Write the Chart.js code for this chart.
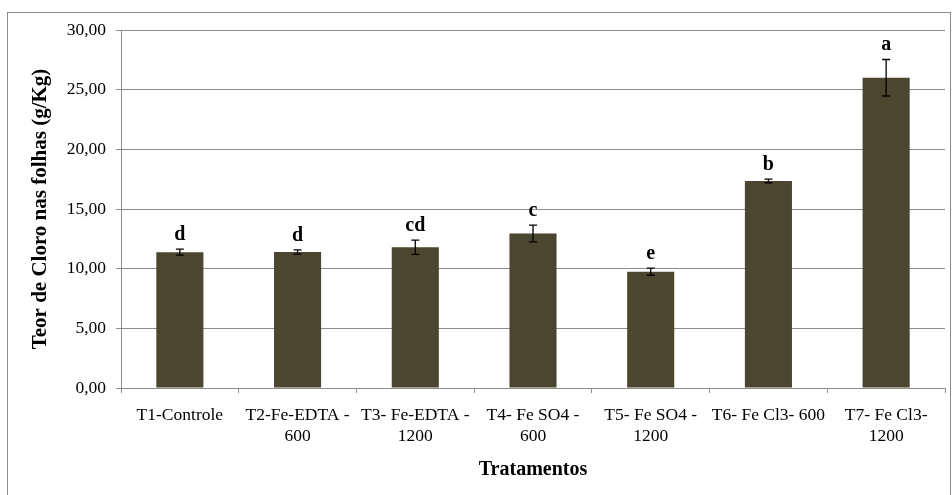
<!DOCTYPE html>
<html>
<head>
<meta charset="utf-8">
<script src="https://cdn.jsdelivr.net/npm/chart.js@4/dist/chart.umd.min.js"></script>
<style>
html,body{margin:0;padding:0;background:#fff;}
#wrap{width:952px;height:495px;position:relative;}
</style>
</head>
<body>
<div id="wrap"><canvas id="c" width="952" height="495"></canvas></div>
<script>
const categories = [
  'T1-Controle',
  ['T2-Fe-EDTA -', '600'],
  ['T3- Fe-EDTA -', '1200'],
  ['T4- Fe SO4 -', '600'],
  ['T5- Fe SO4 -', '1200'],
  'T6- Fe Cl3- 600',
  ['T7- Fe Cl3-', '1200']
];
const values = [11.38, 11.40, 11.80, 12.95, 9.75, 17.35, 26.00];
const errors = [0.25, 0.18, 0.60, 0.70, 0.30, 0.15, 1.53];
const letters = ['d', 'd', 'cd', 'c', 'e', 'b', 'a'];
const yTickLabels = ['0,00', '5,00', '10,00', '15,00', '20,00', '25,00', '30,00'];

const SERIF = '"Liberation Serif", "Times New Roman", serif';

const extras = {
  id: 'extras',
  afterDatasetsDraw(chart) {
    const ctx = chart.ctx;
    const meta = chart.getDatasetMeta(0);
    const y = chart.scales.y;
    ctx.save();
    ctx.strokeStyle = '#000';
    ctx.lineWidth = 1.3;
    ctx.fillStyle = '#000';
    ctx.font = 'bold 20px ' + SERIF;
    ctx.textAlign = 'center';
    ctx.textBaseline = 'alphabetic';
    meta.data.forEach((bar, i) => {
      const x = bar.x;
      const yt = y.getPixelForValue(values[i] + errors[i]);
      const yb = y.getPixelForValue(values[i] - errors[i]);
      ctx.beginPath();
      ctx.moveTo(x, yt); ctx.lineTo(x, yb);
      ctx.moveTo(x - 4, yt); ctx.lineTo(x + 4, yt);
      ctx.moveTo(x - 4, yb); ctx.lineTo(x + 4, yb);
      ctx.stroke();
      ctx.fillText(letters[i], x, yt - 9);
    });
    ctx.restore();
  },
  afterDraw(chart) {
    const ctx = chart.ctx;
    ctx.save();
    ctx.strokeStyle = '#8c8c8c';
    ctx.lineWidth = 1;
    ctx.strokeRect(7.5, 12.5, 943, 500);
    ctx.restore();
  }
};

new Chart(document.getElementById('c'), {
  type: 'bar',
  data: {
    labels: categories,
    datasets: [{
      data: values,
      backgroundColor: '#4B462F',
      borderWidth: 0,
      barPercentage: 0.8,
      categoryPercentage: 0.5
    }]
  },
  options: {
    responsive: false,
    animation: false,
    events: [],
    layout: { padding: { left: 8, right: 7, top: 30, bottom: 0 } },
    plugins: { legend: { display: false }, tooltip: { enabled: false } },
    scales: {
      x: {
        grid: { drawOnChartArea: false, drawTicks: true, tickLength: 5, color: '#8c8c8c', offset: true },
        border: { color: '#8c8c8c', width: 1 },
        ticks: { color: '#000', font: { family: SERIF, size: 17.5 }, padding: 12, maxRotation: 0, autoSkip: false },
        title: { display: true, text: 'Tratamentos', color: '#000', font: { family: SERIF, size: 20, weight: 'bold' }, padding: { top: 0, bottom: 13 } },
        afterFit(s) { s.height = 107; }
      },
      y: {
        min: 0, max: 30,
        grid: { color: '#8c8c8c', tickLength: 5 },
        border: { color: '#8c8c8c', width: 1 },
        ticks: {
          stepSize: 5, color: '#000', font: { family: SERIF, size: 17.5 }, padding: 10,
          callback: (v, i) => yTickLabels[i]
        },
        title: { display: true, text: 'Teor de Cloro nas folhas (g/Kg)', color: '#000', font: { family: SERIF, size: 21, weight: 'bold' }, padding: { top: 20, bottom: 0 } },
        afterFit(s) { s.width = 113; }
      }
    }
  },
  plugins: [extras]
});
</script>
</body>
</html>
